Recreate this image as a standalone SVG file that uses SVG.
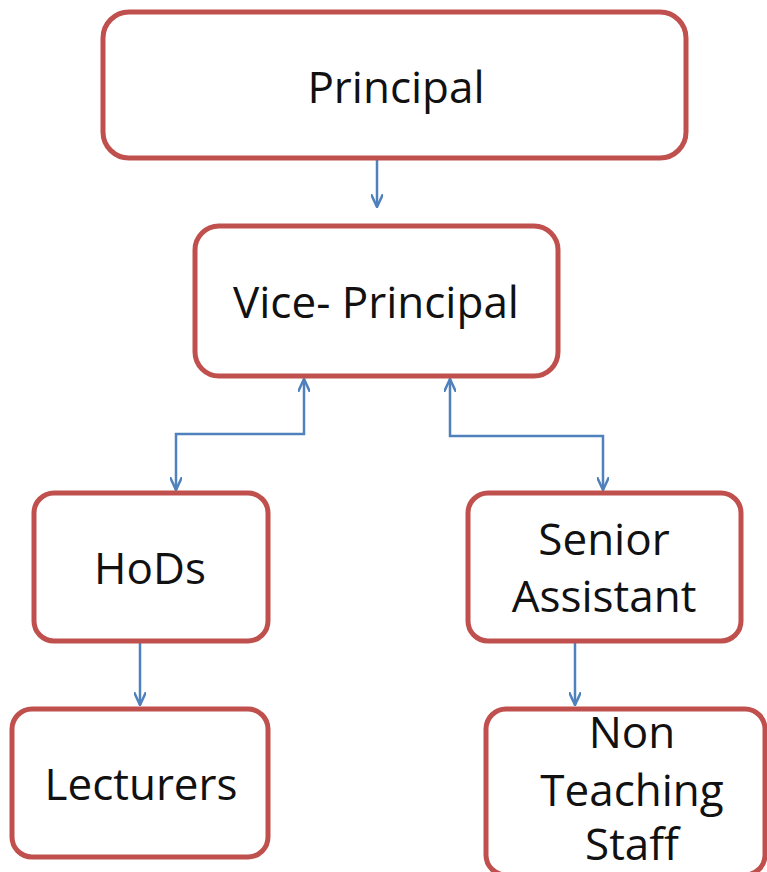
<svg xmlns="http://www.w3.org/2000/svg" width="767" height="872" viewBox="0 0 767 872">
<style>
.box{fill:#fff;stroke:#c0504d;stroke-width:5}
.t{font-family:"Open Sans","Liberation Sans",sans-serif;font-size:44px;fill:#111;text-anchor:middle}
.c{fill:none;stroke:#4f81bd;stroke-width:2.5}
</style>
<defs>
<marker id="ah" viewBox="0 0 14 12" refX="13" refY="6" markerWidth="14" markerHeight="12" markerUnits="userSpaceOnUse" orient="auto-start-reverse">
<path d="M0,0 L13,6 L0,12" fill="none" stroke="#4f81bd" stroke-width="2.5"/>
</marker>
</defs>
<rect width="767" height="872" fill="#fff"/>
<g id="connectors">
<path class="c" d="M377,143 V207" marker-end="url(#ah)"/>
<path class="c" d="M304,379 V434 H176 V490" marker-start="url(#ah)" marker-end="url(#ah)"/>
<path class="c" d="M450,379 V436 H603 V490" marker-start="url(#ah)" marker-end="url(#ah)"/>
<path class="c" d="M140,643 V705" marker-end="url(#ah)"/>
<path class="c" d="M575,643 V705" marker-end="url(#ah)"/>
</g>
<g id="principal">
<rect class="box" x="103" y="12" width="583" height="146" rx="26"/>
<text class="t" x="396" y="103">Principal</text>
</g>
<g id="vice-principal">
<rect class="box" x="195" y="226" width="363" height="150" rx="24"/>
<text class="t" x="376" y="318">Vice- Principal</text>
</g>
<g id="hods">
<rect class="box" x="34" y="493" width="234" height="148" rx="20"/>
<text class="t" x="150" y="584">HoDs</text>
</g>
<g id="senior-assistant">
<rect class="box" x="468" y="493" width="273" height="148" rx="20"/>
<text class="t" x="604" y="555">Senior</text>
<text class="t" x="604" y="612">Assistant</text>
</g>
<g id="lecturers">
<rect class="box" x="12" y="709" width="256" height="148" rx="20"/>
<text class="t" x="141" y="800">Lecturers</text>
</g>
<g id="non-teaching-staff">
<rect class="box" x="486" y="709" width="279" height="166" rx="20"/>
<text class="t" x="632" y="748">Non</text>
<text class="t" x="632" y="806">Teaching</text>
<text class="t" x="632" y="860">Staff</text>
</g>
</svg>
